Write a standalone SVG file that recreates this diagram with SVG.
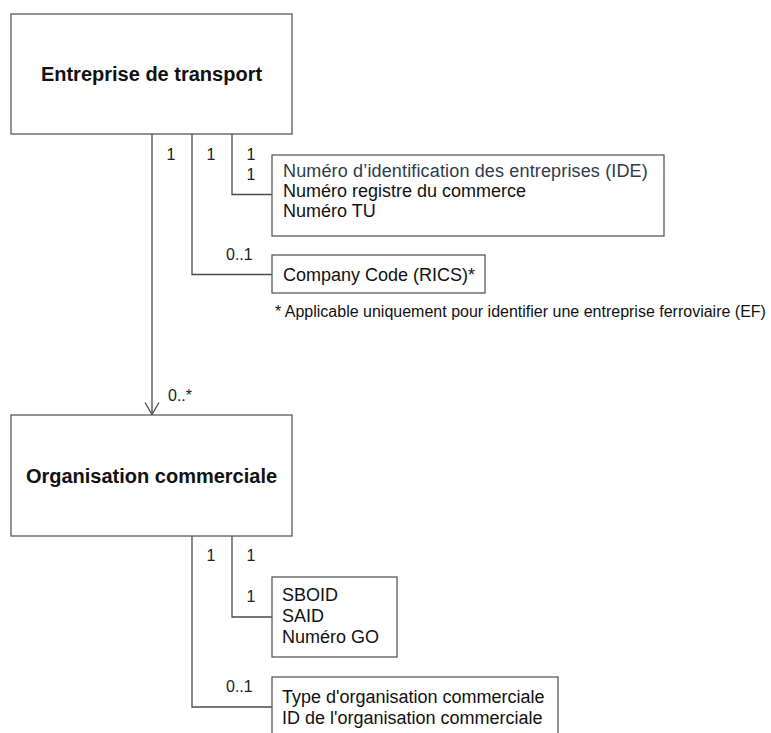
<svg xmlns="http://www.w3.org/2000/svg" width="771" height="733" viewBox="0 0 771 733">
  <style>
    .box { fill: #ffffff; stroke: #5a5a5a; stroke-width: 1.3; }
    .wire { fill: none; stroke: #4a4a4a; stroke-width: 1.3; }
    .title { font-family: "Liberation Sans", Arial, sans-serif; font-weight: bold; font-size: 20px; fill: #111111; text-anchor: middle; }
    .attr { font-family: "Liberation Sans", Arial, sans-serif; font-size: 18px; fill: #111111; }
    .attr-key { fill: #2f3a4c; }
    .mult { font-family: "Liberation Sans", Arial, sans-serif; font-size: 16px; fill: #222222; }
    .note { font-family: "Liberation Sans", Arial, sans-serif; font-size: 16px; fill: #111111; }
  </style>

  <rect width="771" height="733" fill="#ffffff"/>

  <!-- connectors -->
  <g id="connectors">
    <line class="wire" x1="152" y1="134" x2="152" y2="414"/>
    <path class="wire" d="M145,402.5 L152,414.5 L159,402.5"/>
    <path class="wire" d="M192,134 V274.5 H272"/>
    <path class="wire" d="M232,134 V194.5 H272"/>
    <path class="wire" d="M192,536 V707 H272"/>
    <path class="wire" d="M232,536 V617 H272"/>
    <!-- multiplicities -->
    <text class="mult" x="171" y="160" text-anchor="middle">1</text>
    <text class="mult" x="211" y="160" text-anchor="middle">1</text>
    <text class="mult" x="251" y="160" text-anchor="middle">1</text>
    <text class="mult" x="251" y="180" text-anchor="middle">1</text>
    <text class="mult" x="226" y="260">0..1</text>
    <text class="mult" x="168" y="401">0..*</text>
    <text class="mult" x="211" y="561" text-anchor="middle">1</text>
    <text class="mult" x="251" y="561" text-anchor="middle">1</text>
    <text class="mult" x="251" y="602" text-anchor="middle">1</text>
    <text class="mult" x="226" y="692">0..1</text>
  </g>

  <g id="entreprise-transport">
    <rect class="box" x="11" y="14" width="281" height="120"/>
    <text class="title" x="151.5" y="81">Entreprise de transport</text>
  </g>

  <g id="identifiants-entreprise">
    <rect class="box" x="272" y="155" width="392" height="81"/>
    <text class="attr attr-key" x="283" y="177" letter-spacing="0.15">Numéro d’identification des entreprises (IDE)</text>
    <text class="attr" x="283" y="197">Numéro registre du commerce</text>
    <text class="attr" x="283" y="217">Numéro TU</text>
  </g>

  <g id="company-code">
    <rect class="box" x="272" y="255" width="213" height="38"/>
    <text class="attr" x="283" y="281">Company Code (RICS)*</text>
  </g>

  <g id="footnote">
    <text class="note" x="275" y="317">* Applicable uniquement pour identifier une entreprise ferroviaire (EF)</text>
  </g>

  <g id="organisation-commerciale">
    <rect class="box" x="11" y="415" width="281" height="121"/>
    <text class="title" x="151.5" y="483">Organisation commerciale</text>
  </g>

  <g id="identifiants-organisation">
    <rect class="box" x="272" y="577" width="125" height="80"/>
    <text class="attr" x="282" y="601">SBOID</text>
    <text class="attr" x="282" y="622">SAID</text>
    <text class="attr" x="282" y="643">Numéro GO</text>
  </g>

  <g id="type-organisation">
    <rect class="box" x="272" y="677" width="286" height="70"/>
    <text class="attr" x="282" y="703">Type d'organisation commerciale</text>
    <text class="attr" x="282" y="724">ID de l'organisation commerciale</text>
  </g>
</svg>
